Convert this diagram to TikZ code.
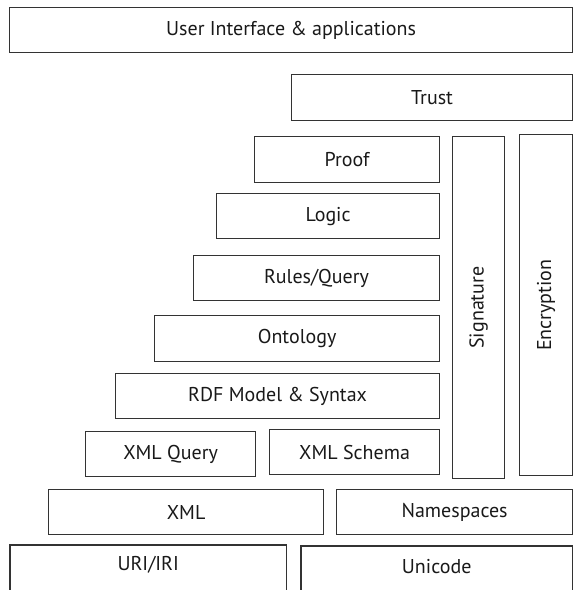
\documentclass[tikz,border=0pt]{standalone}
\usepackage{fontspec}
\setmainfont{PT Sans}
\begin{document}
\begin{tikzpicture}[x=1pt,y=-1pt,
  boxline/.style={draw=black!80, line width=1.2pt},
  txt/.style={font=\fontsize{20}{23}\selectfont, text=black!90},
  layer/.style={boxline, txt, rectangle, inner sep=0pt, anchor=north west},
  label/.style={txt, rectangle, inner sep=0pt, anchor=north west}]
\useasboundingbox (0,0) rectangle (573,590);
\clip (0,0) rectangle (573,590);

% top of the stack
\node[layer, minimum width=563pt, minimum height=45pt] (ui) at (9,7) {User Interface \& applications};
\node[layer, minimum width=281pt, minimum height=46pt] (trust) at (291,74) {Trust};

% semantic layers
\node[layer, minimum width=185pt, minimum height=46pt] (proof) at (254,136) {Proof};
\node[layer, minimum width=223pt, minimum height=45pt] (logic) at (216,193) {Logic};
\node[layer, minimum width=246pt, minimum height=45pt] (rules) at (193,255) {Rules/Query};
\node[layer, minimum width=285pt, minimum height=46pt] (onto) at (154,315) {Ontology};
\node[layer, minimum width=324pt, minimum height=45pt] (rdf) at (115,373) {RDF Model \& Syntax};
\node[layer, minimum width=170pt, minimum height=45pt] (xq) at (85,431) {XML Query};
\node[layer, minimum width=170pt, minimum height=45pt] (xs) at (269,429) {XML Schema};

% security columns
\node[layer, minimum width=52pt, minimum height=342pt] (sig) at (452,136) {};
\node[txt, rotate=90] (sigtext) at (sig.center) {Signature};
\node[layer, minimum width=53pt, minimum height=341pt] (enc) at (519,134) {};
\node[txt, rotate=90] (enctext) at (enc.center) {Encryption};

% syntax layer
\node[layer, minimum width=275pt, minimum height=45pt] (xml) at (48,489) {XML};
\node[layer, minimum width=236pt, minimum height=45pt] (ns) at (336,489) {Namespaces};

% base layer, open at the bottom
\node[label, minimum width=276pt, minimum height=40pt] (uri) at (10,545) {URI/IRI};
\node[label, minimum width=271pt, minimum height=40pt] (uni) at (301,546) {Unicode};
\draw[boxline] (uri.south west) ++(0,20) |- (uri.north east) -- ++(0,60);
\draw[boxline] (uni.south west) ++(0,20) |- (uni.north east) -- ++(0,60);
\end{tikzpicture}
\end{document}
